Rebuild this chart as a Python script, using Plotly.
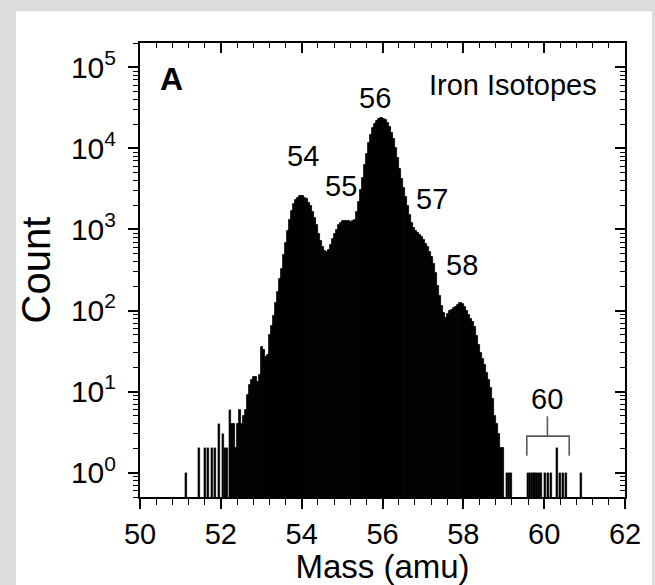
import math
import plotly.graph_objects as go

# ---------------- data ----------------
# main body of the iron-isotope mass histogram (contiguous 0.05 amu bins)
body_start = 52.25
body_bin = 0.05
body_counts = [
    4, 4, 2, 4, 6, 4, 5, 6, 9, 12,            # 52.25 - 52.70
    14, 15, 15, 13, 16, 35, 33, 27, 28, 50,   # 52.75 - 53.20
    65, 85, 125, 170, 245, 330, 480, 690, 950, 1300,   # 53.25 - 53.70
    1700, 2050, 2300, 2480, 2570, 2560, 2480, 2350, 2150, 1930,  # 53.75 - 54.20
    1650, 1370, 1120, 890, 730, 600, 540, 520, 560, 650,   # 54.25 - 54.70
    770, 880, 990, 1120, 1200, 1260, 1270, 1260, 1260, 1250,  # 54.75 - 55.20
    1260, 1300, 1650, 2200, 3100, 4300, 6200, 8500, 11800, 14800,  # 55.25 - 55.70
    17800, 20300, 22000, 23000, 23500, 23200, 22200, 20400, 18200, 15700,  # 55.75 - 56.20
    13000, 10000, 7600, 5600, 4200, 3250, 2500, 1950, 1500, 1200,  # 56.25 - 56.70
    1050, 960, 900, 850, 800, 740, 670, 600, 530, 460,  # 56.75 - 57.20
    380, 290, 200, 150, 115, 92, 80, 90, 98, 102,  # 57.25 - 57.70
    108, 110, 118, 123, 120, 112, 100, 88, 78, 72,  # 57.75 - 58.20
    62, 49, 38, 30, 25, 21, 17, 14, 11, 8,  # 58.25 - 58.70
    5, 4, 3, 2, 2,  # 58.75 - 58.95
]

# isolated single events in the tails
sparse_mass = [51.14, 51.47, 51.61, 51.69, 51.77, 51.85, 51.96, 52.06, 52.11, 52.16, 52.23,
               59.07, 59.13, 59.19,
               59.60, 59.65, 59.70, 59.74, 59.78, 59.83, 59.88, 59.93,
               60.02, 60.10, 60.18, 60.31, 60.39, 60.46, 60.53, 60.91]
sparse_counts = [1, 2, 2, 2, 2, 2, 4, 3, 2, 2, 6,
                 1, 1, 1,
                 1, 1, 1, 1, 1, 1, 1, 1,
                 1, 1, 1, 2, 1, 1, 1, 1]

peak_labels = ["54", "55", "56", "57", "58"]
peak_label_mass = [54.04, 54.97, 55.81, 57.22, 57.96]
peak_label_count = [8100, 3470, 41700, 2400, 363]

# bracket grouping the mass-60 events
bracket_left, bracket_right, bracket_mid = 59.57, 60.62, 60.08
bracket_low, bracket_high, bracket_top = 1.61, 2.82, 4.96
label60_count = 8.1

x_ticks = [50, 52, 54, 56, 58, 60, 62]
y_ticks = [1, 10, 100, 1000, 10000, 100000]
y_ticktext = ["10<sup>0</sup>", "10<sup>1</sup>", "10<sup>2</sup>",
              "10<sup>3</sup>", "10<sup>4</sup>", "10<sup>5</sup>"]

# ---------------- figure ----------------
FONT = "Liberation Sans, Arial, Helvetica, sans-serif"
body_x = [body_start + body_bin / 2 + i * body_bin for i in range(len(body_counts))]

fig = go.Figure()
fig.add_trace(go.Bar(x=body_x, y=body_counts, width=body_bin * 1.2,
                     marker=dict(color="black", line=dict(color="black", width=0.8)),
                     showlegend=False, hoverinfo="x+y"))
fig.add_trace(go.Bar(x=sparse_mass, y=sparse_counts, width=0.05,
                     marker=dict(color="black", line=dict(color="black", width=0.3)),
                     showlegend=False, hoverinfo="x+y"))
# bracket drawn on the mirrored (top/right) axes, which share the same ranges
fig.add_trace(go.Scatter(
    x=[bracket_left, bracket_left, bracket_right, bracket_right, None, bracket_mid, bracket_mid],
    y=[bracket_low, bracket_high, bracket_high, bracket_low, None, bracket_high, bracket_top],
    xaxis="x2", yaxis="y2",
    mode="lines", line=dict(color="#5a5a5a", width=1.6), showlegend=False, hoverinfo="skip"))

ymin, ymax = math.log10(0.5), math.log10(2e5)
y_minor = [m * 10 ** e for e in range(-1, 6) for m in range(2, 10)]

common_x = dict(range=[50, 62], showgrid=False, zeroline=False, showline=True,
                linecolor="black", linewidth=2, tickcolor="black", tickwidth=1.5)
common_y = dict(type="log", range=[ymin, ymax], showgrid=False, zeroline=False,
                showline=True, linecolor="black", linewidth=2, tickcolor="black",
                tickwidth=1.5)

fig.update_layout(
    width=655, height=585,
    margin=dict(l=140, r=30, t=43, b=84),
    paper_bgcolor="#dcdcdc", plot_bgcolor="white",
    bargap=0, barmode="overlay",
    font=dict(family=FONT, color="black", size=28),
    xaxis=dict(**common_x, tickmode="array", tickvals=x_ticks, ticks="outside", ticklen=10,
               tickfont=dict(size=29),
               minor=dict(tick0=50, dtick=0.4, ticks="outside", ticklen=6,
                          tickcolor="black", tickwidth=1.2),
               title=dict(text="Mass (amu)", font=dict(size=33), standoff=0)),
    yaxis=dict(**common_y, tickmode="array", tickvals=y_ticks, ticktext=y_ticktext,
               ticks="outside", ticklen=10, tickfont=dict(size=30), ticklabelstandoff=6,
               minor=dict(tickmode="array", tickvals=y_minor, ticks="outside",
                          ticklen=5, tickcolor="black", tickwidth=1),
               title=dict(text="Count", font=dict(size=40), standoff=8)),
    xaxis2=dict(**common_x, overlaying="x", side="top", anchor="y2", ticks="inside",
                ticklen=10, tickmode="array", tickvals=x_ticks, showticklabels=False,
                minor=dict(tick0=50, dtick=0.4, ticks="inside", ticklen=5,
                           tickcolor="black", tickwidth=1.2)),
    yaxis2=dict(**common_y, overlaying="y", side="right", anchor="x2", ticks="inside",
                ticklen=10, tickmode="array", tickvals=y_ticks, showticklabels=False,
                minor=dict(tickmode="array", tickvals=y_minor, ticks="inside",
                           ticklen=5, tickcolor="black", tickwidth=1)),
)

# white panel behind the plot (runs off the bottom of the page)
fig.add_shape(type="rect", xref="paper", yref="paper",
              x0=-0.2557, x1=1.0557, y0=-0.25, y1=1.0699,
              fillcolor="white", line=dict(width=0), layer="below")

for txt, mx, cy in zip(peak_labels, peak_label_mass, peak_label_count):
    fig.add_annotation(x=mx, y=math.log10(cy), text=txt, showarrow=False,
                       font=dict(size=29), xanchor="center", yanchor="middle")
fig.add_annotation(x=bracket_mid, y=math.log10(label60_count), text="60", showarrow=False,
                   font=dict(size=29), xanchor="center", yanchor="middle")
fig.add_annotation(x=50.78, y=4.86, text="<b>A</b>", showarrow=False,
                   font=dict(size=32, family="Liberation Sans, Arial, sans-serif"),
                   xanchor="center", yanchor="middle")
fig.add_annotation(x=59.23, y=4.78, text="Iron Isotopes", showarrow=False,
                   font=dict(size=29), xanchor="center", yanchor="middle")

fig.write_html("out.html", config={"displayModeBar": False},
               post_script="document.body.style.margin='0';")
